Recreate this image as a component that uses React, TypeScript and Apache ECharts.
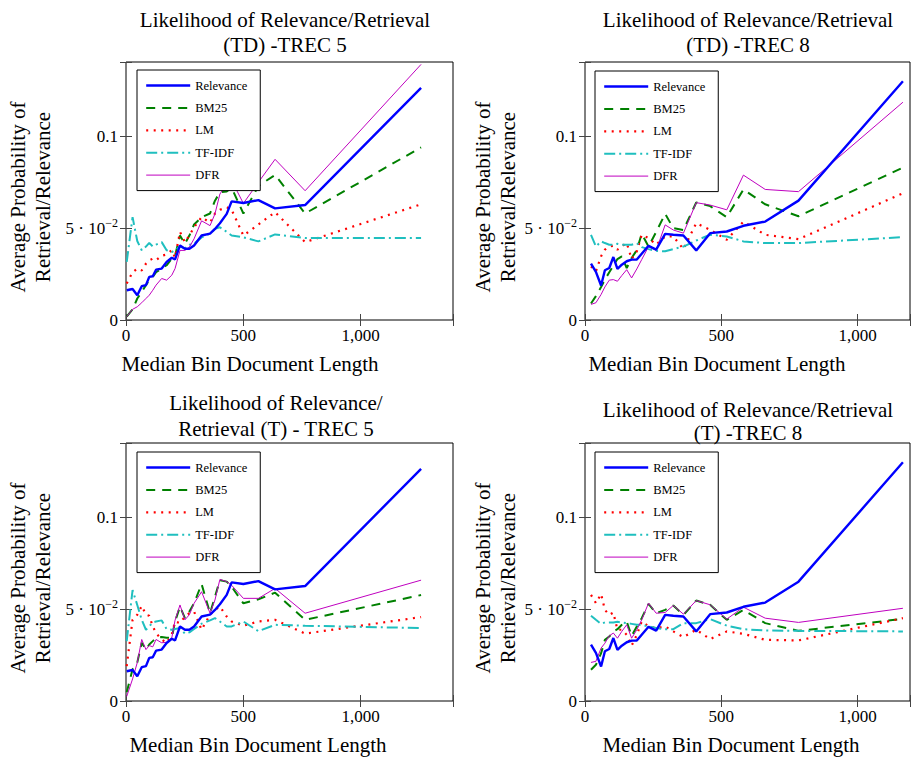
import React, { useEffect, useRef } from 'react';
import * as echarts from 'echarts';

const FONT = "'Liberation Serif', 'Times New Roman', serif";

const seriesNames = ['Relevance', 'BM25', 'LM', 'TF-IDF', 'DFR'];

// Median bin document lengths (x values)
const binLengthTrec5 = [3, 28, 48, 67, 85, 99, 114, 128, 152, 173, 195, 209, 230, 251, 270, 290, 322, 358, 379, 400, 429, 450, 500, 564, 635, 763, 1257];
const binLengthTrec8 = [22, 40, 59, 73, 89, 104, 119, 135, 153, 171, 190, 208, 233, 261, 294, 324, 361, 408, 459, 520, 581, 661, 783, 1166];

// TREC 5
const relevanceTrec5 = [0.0162, 0.0169, 0.0135, 0.0184, 0.019, 0.0235, 0.0238, 0.0274, 0.028, 0.0316, 0.0339, 0.033, 0.0406, 0.0388, 0.0388, 0.0406, 0.046, 0.047, 0.0496, 0.0527, 0.0578, 0.0646, 0.0637, 0.0653, 0.0608, 0.0626, 0.1264];
const bm25TdTrec5 = [0.0018, 0.0058, 0.0117, 0.0153, 0.019, 0.0217, 0.0235, 0.026, 0.028, 0.0298, 0.0334, 0.035, 0.046, 0.0415, 0.046, 0.052, 0.056, 0.058, 0.065, 0.0695, 0.070, 0.072, 0.058, 0.073, 0.079, 0.058, 0.094];
const lmTdTrec5 = [0.0199, 0.026, 0.028, 0.027, 0.0307, 0.0325, 0.0334, 0.0325, 0.035, 0.0357, 0.038, 0.034, 0.048, 0.0424, 0.046, 0.0505, 0.056, 0.053, 0.058, 0.060, 0.0614, 0.060, 0.046, 0.052, 0.0587, 0.0424, 0.063];
const tfidfTdTrec5 = [0.0316, 0.056, 0.043, 0.038, 0.040, 0.042, 0.040, 0.041, 0.0424, 0.038, 0.037, 0.038, 0.040, 0.039, 0.041, 0.0415, 0.045, 0.047, 0.0496, 0.0505, 0.048, 0.046, 0.045, 0.0428, 0.0466, 0.0446, 0.0446];
const dfrTdTrec5 = [0.0018, 0.0058, 0.0072, 0.0094, 0.0117, 0.0135, 0.0162, 0.019, 0.0226, 0.0217, 0.0244, 0.028, 0.0379, 0.0379, 0.0397, 0.0442, 0.054, 0.0514, 0.0578, 0.0686, 0.074, 0.076, 0.0635, 0.075, 0.0875, 0.0704, 0.1392];

const bm25TTrec5 = [0.0047, 0.0173, 0.0209, 0.0317, 0.028, 0.0308, 0.0326, 0.0344, 0.0349, 0.0344, 0.0344, 0.0433, 0.0514, 0.0451, 0.0487, 0.0532, 0.0637, 0.0478, 0.0568, 0.0658, 0.065, 0.0622, 0.0532, 0.0554, 0.059, 0.0442, 0.0577];
const lmTTrec5 = [0.019, 0.0442, 0.047, 0.0518, 0.047, 0.0464, 0.0406, 0.037, 0.0335, 0.0317, 0.0362, 0.0433, 0.0424, 0.046, 0.0478, 0.0487, 0.0388, 0.047, 0.0496, 0.0514, 0.046, 0.0433, 0.041, 0.0433, 0.0442, 0.0367, 0.0457];
const tfidfTTrec5 = [0.0326, 0.0604, 0.0523, 0.0442, 0.0388, 0.0406, 0.0428, 0.0433, 0.0439, 0.0392, 0.0388, 0.0392, 0.0397, 0.0367, 0.0374, 0.0392, 0.0421, 0.0439, 0.0451, 0.0433, 0.0406, 0.0406, 0.0433, 0.038, 0.0415, 0.041, 0.0397];
const dfrTTrec5 = [0.0025, 0.012, 0.0209, 0.0335, 0.028, 0.0302, 0.0295, 0.0335, 0.0317, 0.032, 0.0344, 0.044, 0.0523, 0.0442, 0.047, 0.0532, 0.0595, 0.0478, 0.055, 0.0662, 0.065, 0.063, 0.0559, 0.0559, 0.0613, 0.0478, 0.0658];

// TREC 8
const relevanceTrec8 = [0.0307, 0.0262, 0.0188, 0.0271, 0.0283, 0.0343, 0.0278, 0.0301, 0.032, 0.0329, 0.0329, 0.0361, 0.0404, 0.0383, 0.0469, 0.0464, 0.046, 0.0379, 0.0473, 0.0482, 0.0513, 0.0536, 0.065, 0.13];
const bm25TdTrec8 = [0.009, 0.013, 0.018, 0.022, 0.026, 0.0296, 0.0332, 0.0347, 0.0283, 0.0338, 0.038, 0.047, 0.040, 0.048, 0.0578, 0.050, 0.049, 0.064, 0.062, 0.056, 0.0711, 0.063, 0.0565, 0.083];
const lmTdTrec8 = [0.0292, 0.0265, 0.0347, 0.0383, 0.040, 0.0404, 0.0383, 0.040, 0.042, 0.0332, 0.0374, 0.0464, 0.0446, 0.041, 0.0455, 0.0455, 0.0386, 0.0527, 0.0491, 0.0437, 0.0536, 0.0464, 0.044, 0.069];
const tfidfTdTrec8 = [0.0464, 0.040, 0.0428, 0.0419, 0.041, 0.041, 0.0415, 0.041, 0.041, 0.041, 0.0419, 0.0397, 0.0386, 0.0377, 0.0374, 0.0386, 0.040, 0.0433, 0.0464, 0.0455, 0.0428, 0.0419, 0.0419, 0.0451];
const dfrTdTrec8 = [0.0085, 0.0094, 0.0139, 0.018, 0.0217, 0.022, 0.0211, 0.0242, 0.0274, 0.0229, 0.0278, 0.0329, 0.040, 0.0379, 0.0518, 0.049, 0.0473, 0.0639, 0.0626, 0.060, 0.0789, 0.0711, 0.0699, 0.1186];

const bm25TTrec8 = [0.017, 0.0197, 0.026, 0.0333, 0.0351, 0.0379, 0.0391, 0.0415, 0.0433, 0.0355, 0.0406, 0.0451, 0.0529, 0.0478, 0.0496, 0.052, 0.0469, 0.0547, 0.0524, 0.0442, 0.0496, 0.0424, 0.0382, 0.0447];
const lmTTrec8 = [0.0578, 0.0533, 0.0583, 0.0496, 0.0469, 0.0482, 0.0388, 0.0388, 0.036, 0.0301, 0.036, 0.0433, 0.0406, 0.0397, 0.0406, 0.0379, 0.0348, 0.0388, 0.0337, 0.0379, 0.0366, 0.0333, 0.033, 0.0451];
const tfidfTTrec8 = [0.0464, 0.0442, 0.042, 0.0428, 0.0428, 0.0428, 0.0431, 0.0428, 0.0424, 0.042, 0.0415, 0.0415, 0.0406, 0.0397, 0.0391, 0.0391, 0.0424, 0.0424, 0.0446, 0.041, 0.0391, 0.0384, 0.0382, 0.0379];
const dfrTTrec8 = [0.021, 0.0216, 0.0288, 0.0315, 0.0355, 0.037, 0.0342, 0.0379, 0.0415, 0.0342, 0.0388, 0.0442, 0.0533, 0.0478, 0.0482, 0.052, 0.0473, 0.0547, 0.0524, 0.0446, 0.0511, 0.0451, 0.0428, 0.0505];

const xTicks = [0, 500, 1000];
const yTicks = [0, 0.05, 0.1];

const panels = [
  {
    title: ['Likelihood of Relevance/Retrieval', '(TD) -TREC 5'], titleX: 285, titleY: [20, 45],
    grid: { left: 126, top: 62, width: 327, height: 258 }, xMax: 1393,
    xs: binLengthTrec5, ys: [relevanceTrec5, bm25TdTrec5, lmTdTrec5, tfidfTdTrec5, dfrTdTrec5],
    xNameX: 250, xNameY: 364, yNameX: [18, 43], yNameY: 197, legend: [137, 70],
  },
  {
    title: ['Likelihood of Relevance/Retrieval', '(TD) -TREC 8'], titleX: 748, titleY: [20, 45],
    grid: { left: 585, top: 62, width: 325, height: 258 }, xMax: 1192,
    xs: binLengthTrec8, ys: [relevanceTrec8, bm25TdTrec8, lmTdTrec8, tfidfTdTrec8, dfrTdTrec8],
    xNameX: 717, xNameY: 364, yNameX: [483, 508], yNameY: 197, legend: [595, 71],
  },
  {
    title: ['Likelihood of Relevance/', 'Retrieval (T) - TREC 5'], titleX: 276, titleY: [403, 429],
    grid: { left: 126, top: 443, width: 327, height: 258 }, xMax: 1393,
    xs: binLengthTrec5, ys: [relevanceTrec5, bm25TTrec5, lmTTrec5, tfidfTTrec5, dfrTTrec5],
    xNameX: 258, xNameY: 745, yNameX: [18, 43], yNameY: 578, legend: [137, 452],
  },
  {
    title: ['Likelihood of Relevance/Retrieval', '(T) -TREC 8'], titleX: 748, titleY: [410, 433],
    grid: { left: 585, top: 443, width: 325, height: 258 }, xMax: 1192,
    xs: binLengthTrec8, ys: [relevanceTrec8, bm25TTrec8, lmTTrec8, tfidfTTrec8, dfrTTrec8],
    xNameX: 731, xNameY: 745, yNameX: [483, 508], yNameY: 578, legend: [595, 452],
  },
];

const lineStyles: any[] = [
  { color: '#0000ff', width: 2.4, type: 'solid' },
  { color: '#008000', width: 2, type: [9, 7] },
  { color: '#ff0000', width: 2.2, type: [2, 5.5] },
  { color: '#1fbfbf', width: 2, type: [11, 4, 2, 4] },
  { color: '#bf00bf', width: 1, type: 'solid' },
];

const near = (a: number, b: number) => Math.abs(a - b) < 1e-9;

export default function App() {
  const ref = useRef<HTMLDivElement>(null);
  useEffect(() => {
    if (!ref.current) return;
    const chart = echarts.init(ref.current, undefined, { renderer: 'svg' });
    const tickStyle = { show: true, inside: true, length: 6, lineStyle: { color: '#444', width: 1 } };
    const xAxes: any[] = [];
    const yAxes: any[] = [];
    const series: any[] = [];
    const graphic: any[] = [];
    const legends: any[] = [];
    panels.forEach((p, i) => {
      const xBase = { type: 'value', gridIndex: i, min: 0, max: p.xMax, interval: 500, splitLine: { show: false }, axisLine: { show: false }, axisTick: tickStyle };
      xAxes.push({
        ...xBase, position: 'bottom',
        axisLabel: {
          margin: 7, fontFamily: FONT, fontSize: 17, color: '#000',
          formatter: (v: number) => (xTicks.some((t) => near(t, v)) ? v.toLocaleString('en-US') : ''),
        },
      });
      xAxes.push({ ...xBase, position: 'top', axisLabel: { show: false } });
      const yBase = { type: 'value', gridIndex: i, min: 0, max: 0.1405, interval: 0.05, splitLine: { show: false }, axisLine: { show: false }, axisTick: tickStyle };
      yAxes.push({
        ...yBase, position: 'left',
        axisLabel: {
          margin: 8, fontFamily: FONT, fontSize: 17, color: '#000',
          formatter: (v: number) => {
            if (!yTicks.some((t) => near(t, v))) return '';
            if (near(v, 0)) return '0';
            if (near(v, 0.05)) return '{a|5 · 10}{s|−2}';
            return '0.1';
          },
          rich: {
            a: { fontFamily: FONT, fontSize: 17, color: '#000', lineHeight: 22 },
            s: { fontFamily: FONT, fontSize: 12, color: '#000', lineHeight: 12, verticalAlign: 'top' },
          },
        },
      });
      yAxes.push({ ...yBase, position: 'right', axisLabel: { show: false } });

      seriesNames.forEach((name, j) => {
        series.push({
          name, type: 'line', xAxisIndex: 2 * i, yAxisIndex: 2 * i,
          data: p.xs.map((x, k) => [x, p.ys[j][k]]),
          symbol: 'none', showSymbol: false, silent: true, clip: true,
          lineStyle: lineStyles[j], itemStyle: { color: lineStyles[j].color },
          z: 2 + (j === 0 ? 1 : 0),
        });
      });

      legends.push({
        orient: 'vertical', left: p.legend[0], top: p.legend[1],
        data: seriesNames.map((n, j) => ({ name: n, lineStyle: { width: lineStyles[j].width } })),
        itemWidth: 44, itemHeight: 14, itemGap: 9.4,
        padding: [9, 13, 9, 8],
        backgroundColor: '#fff', borderColor: '#000', borderWidth: 1, borderRadius: 0,
        itemStyle: { color: 'rgba(0,0,0,0)', borderWidth: 0, opacity: 0 },
        textStyle: { fontFamily: FONT, fontSize: 12.5, color: '#000' },
        selectedMode: false, z: 10,
      });

      p.title.forEach((t, k) => {
        graphic.push({ type: 'text', x: p.titleX, y: p.titleY[k], style: { text: t, font: `21px ${FONT}`, fill: '#000', textAlign: 'center', textVerticalAlign: 'middle' } });
      });
      graphic.push({ type: 'text', x: p.xNameX, y: p.xNameY, style: { text: 'Median Bin Document Length', font: `21px ${FONT}`, fill: '#000', textAlign: 'center', textVerticalAlign: 'middle' } });
      ['Average Probability of', 'Retrieval/Relevance'].forEach((t, k) => {
        graphic.push({ type: 'text', x: p.yNameX[k], y: p.yNameY, rotation: Math.PI / 2, style: { text: t, font: `21px ${FONT}`, fill: '#000', textAlign: 'center', textVerticalAlign: 'middle' } });
      });
    });

    chart.setOption({
      animation: false,
      backgroundColor: '#fff',
      grid: panels.map((p) => ({ ...p.grid, show: true, borderColor: '#000', borderWidth: 1, backgroundColor: 'transparent', containLabel: false })),
      xAxis: xAxes,
      yAxis: yAxes,
      legend: legends,
      series,
      graphic,
    });
    return () => chart.dispose();
  }, []);
  return <div ref={ref} style={{ position: 'absolute', left: 0, top: 0, width: 913, height: 757 }} />;
}
